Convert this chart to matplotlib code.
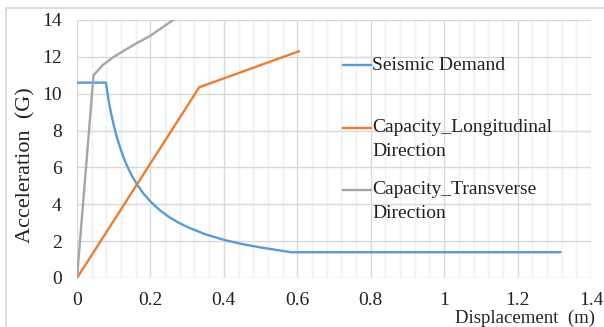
import matplotlib
matplotlib.use("Agg")
import matplotlib.pyplot as plt
from matplotlib.lines import Line2D
from matplotlib.patches import Rectangle
from matplotlib.ticker import MultipleLocator

plt.rcParams['font.family'] = ['Liberation Serif', 'DejaVu Serif']

# seismic demand spectrum (displacement m, acceleration G)
demand_x = [0, 0.079, 0.082, 0.086, 0.09, 0.095, 0.1, 0.105, 0.11, 0.12, 0.13, 0.14, 0.15, 0.165,
            0.18, 0.2, 0.225, 0.25, 0.275, 0.3, 0.35, 0.4, 0.45, 0.5, 0.55, 0.583, 1.316]
demand_y = [10.6, 10.6, 10.15, 9.65, 9.22, 8.74, 8.3, 7.9, 7.55, 6.92, 6.38, 5.93, 5.53, 5.03,
            4.61, 4.15, 3.69, 3.32, 3.02, 2.77, 2.37, 2.07, 1.84, 1.66, 1.5, 1.4, 1.4]

# capacity curves
long_x = [0, 0.333, 0.604]
long_y = [0, 10.35, 12.3]

trans_x = [0, 0.045, 0.07, 0.1, 0.15, 0.2, 0.262, 0.3]
trans_y = [0, 11.0, 11.55, 12.0, 12.6, 13.15, 14.0, 14.4]

labels = ['Seismic Demand', 'Capacity_Longitudinal\nDirection', 'Capacity_Transverse\nDirection']
colors = ['#5B9BD5', '#ED7D31', '#A5A5A5']

W, H = 604, 327
fig = plt.figure(figsize=(W / 100, H / 100), dpi=100)
ax = fig.add_axes([77 / W, 1 - 278 / H, (591 - 77) / W, (278 - 20) / H])

ax.plot(demand_x, demand_y, color=colors[0], lw=1.7)
ax.plot(long_x, long_y, color=colors[1], lw=1.7)
ax.plot(trans_x, trans_y, color=colors[2], lw=1.7)

ax.set_xlim(0, 1.4)
ax.set_ylim(0, 14)
ax.xaxis.set_minor_locator(MultipleLocator(0.04))
ax.yaxis.set_major_locator(MultipleLocator(2))
ax.set_xticks([0, 0.2, 0.4, 0.6, 0.8, 1.0, 1.2, 1.4])
ax.set_xticklabels(['0', '0.2', '0.4', '0.6', '0.8', '1', '1.2', '1.4'])
ax.grid(which='major', color='#d9d9d9', lw=1.0)
ax.grid(which='minor', axis='x', color='#efefef', lw=1.0)
ax.set_axisbelow(True)
for s in ax.spines.values():
    s.set_visible(False)
ax.tick_params(which='both', length=0, labelsize=14, colors='#222222')
ax.tick_params(axis='y', pad=11)
ax.tick_params(axis='x', pad=10)

fig.text(26 / W, 1 - 165 / H, 'Acceleration  (G)', rotation=90, ha='center', va='center',
         fontsize=16, color='#222222')
fig.text(595 / W, 1 - 318.5 / H, 'Displacement  (m)', ha='right', va='center',
         fontsize=13.5, color='#222222')

# legend drawn by hand in figure pixels
leg_rows = [[65], [128, 152], [190, 214]]
for lab, col, rows in zip(labels, colors, leg_rows):
    fig.add_artist(Line2D([343 / W, 371 / W], [1 - rows[0] / H] * 2, color=col, lw=1.7))
    for line, yy in zip(lab.split('\n'), rows):
        fig.text(372 / W, 1 - yy / H, line, ha='left', va='center', fontsize=14, color='#222222')

# outer frame of the chart area
fig.add_artist(Rectangle((6 / W, -0.1), 1.2, 1.1 - 8 / H, transform=fig.transFigure,
                         fill=False, ec='#d9d9d9', lw=1.3))

fig.savefig('out.png', dpi=100)
